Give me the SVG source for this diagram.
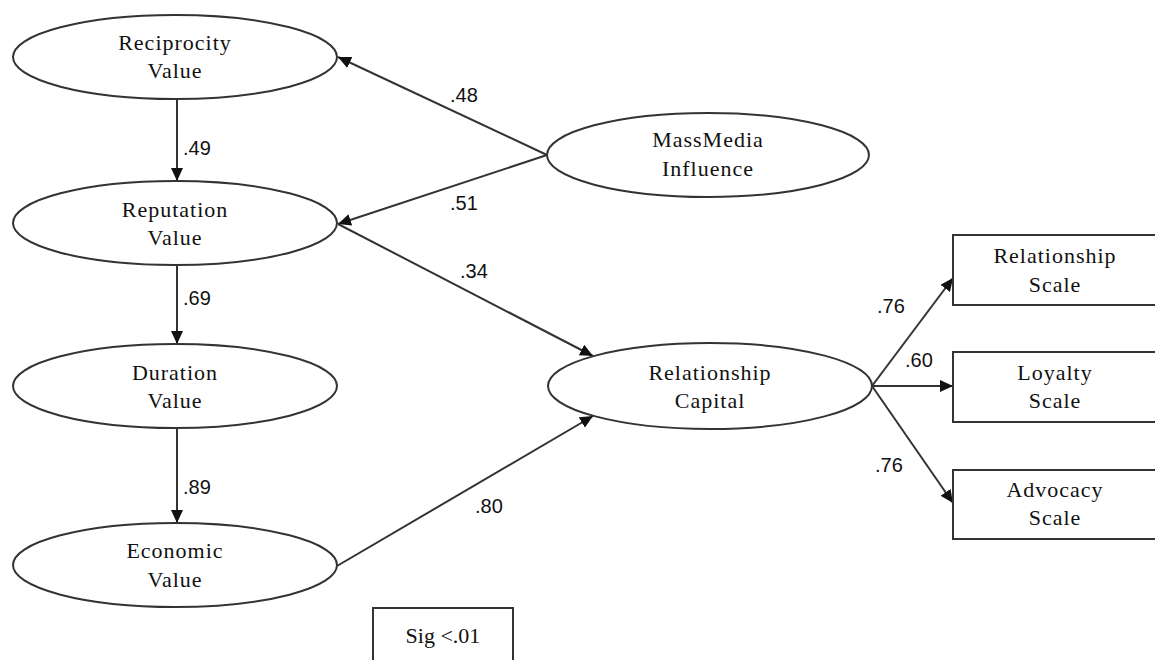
<svg xmlns="http://www.w3.org/2000/svg" width="1155" height="660" viewBox="0 0 1155 660">
  <defs>
    <marker id="arrow" markerUnits="userSpaceOnUse" markerWidth="14" markerHeight="12" refX="13" refY="6" orient="auto">
      <path d="M0,0 L13,6 L0,12 z" fill="#111"/>
    </marker>
    <style>
      .node ellipse, .node rect { fill: #fff; stroke: #333; stroke-width: 2; }
      .node text { font-family: "Liberation Serif", "Times New Roman", serif; font-size: 22px; letter-spacing: 1px; fill: #111; text-anchor: middle; }
      .edges line { stroke: #333; stroke-width: 2; marker-end: url(#arrow); }
      .edges text { font-family: "Liberation Sans", Arial, sans-serif; font-size: 20px; fill: #111; }
    </style>
  </defs>
  <rect width="1155" height="660" fill="#fff"/>

  <g class="edges" id="connectors">
    <line x1="177" y1="99" x2="177" y2="181"/>
    <line x1="177" y1="265" x2="177" y2="344"/>
    <line x1="177" y1="428" x2="177" y2="523"/>
    <line x1="547" y1="155" x2="338" y2="57"/>
    <line x1="547" y1="155" x2="338" y2="224"/>
    <line x1="338" y1="224" x2="593" y2="356"/>
    <line x1="337" y1="566" x2="593" y2="416"/>
    <line x1="872" y1="386" x2="953" y2="278"/>
    <line x1="872" y1="386" x2="953" y2="386"/>
    <line x1="872" y1="386" x2="953" y2="503"/>
    <text x="183" y="155">.49</text>
    <text x="183" y="305">.69</text>
    <text x="183" y="494">.89</text>
    <text x="450" y="102">.48</text>
    <text x="450" y="210">.51</text>
    <text x="460" y="278">.34</text>
    <text x="475" y="513">.80</text>
    <text x="877" y="313">.76</text>
    <text x="905" y="367">.60</text>
    <text x="875" y="472">.76</text>
  </g>

  <g class="node" id="reciprocity">
    <ellipse cx="175" cy="57" rx="162" ry="42"/>
    <text x="175" y="50">Reciprocity</text>
    <text x="175" y="78">Value</text>
  </g>
  <g class="node" id="reputation">
    <ellipse cx="175" cy="223" rx="162" ry="42"/>
    <text x="175" y="217">Reputation</text>
    <text x="175" y="245">Value</text>
  </g>
  <g class="node" id="duration">
    <ellipse cx="175" cy="386" rx="162" ry="42"/>
    <text x="175" y="380">Duration</text>
    <text x="175" y="408">Value</text>
  </g>
  <g class="node" id="economic">
    <ellipse cx="175" cy="565" rx="162" ry="42"/>
    <text x="175" y="558">Economic</text>
    <text x="175" y="587">Value</text>
  </g>
  <g class="node" id="massmedia">
    <ellipse cx="708" cy="155" rx="161" ry="42"/>
    <text x="708" y="147">MassMedia</text>
    <text x="708" y="176">Influence</text>
  </g>
  <g class="node" id="relationship-capital">
    <ellipse cx="710" cy="386" rx="162" ry="43"/>
    <text x="710" y="380">Relationship</text>
    <text x="710" y="408">Capital</text>
  </g>
  <g class="node" id="relationship-scale">
    <rect x="953" y="235" width="210" height="70"/>
    <text x="1055" y="263">Relationship</text>
    <text x="1055" y="292">Scale</text>
  </g>
  <g class="node" id="loyalty-scale">
    <rect x="953" y="352" width="210" height="70"/>
    <text x="1055" y="380">Loyalty</text>
    <text x="1055" y="408">Scale</text>
  </g>
  <g class="node" id="advocacy-scale">
    <rect x="953" y="470" width="210" height="69"/>
    <text x="1055" y="497">Advocacy</text>
    <text x="1055" y="525">Scale</text>
  </g>
  <g class="node" id="significance">
    <rect x="373" y="608" width="140" height="70"/>
    <text x="443" y="643" style="letter-spacing:0">Sig &lt;.01</text>
  </g>
</svg>
